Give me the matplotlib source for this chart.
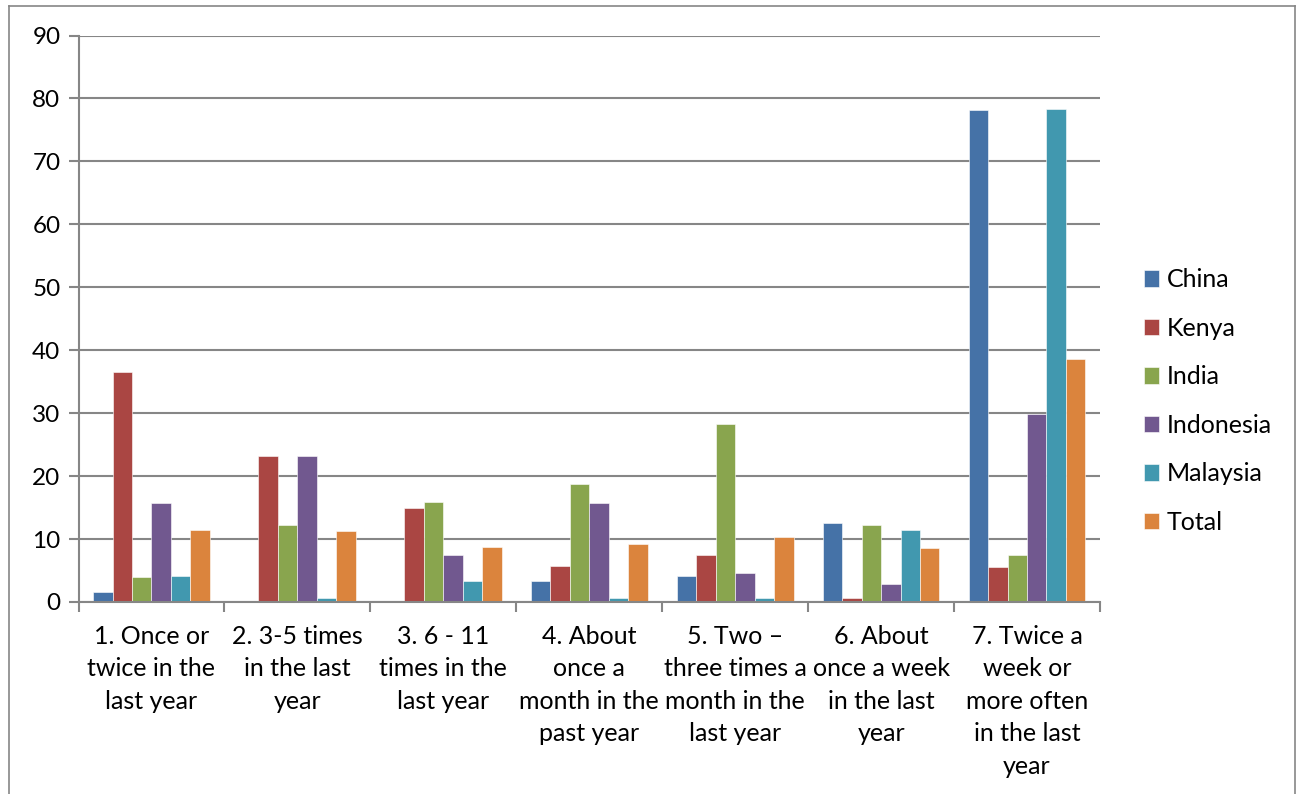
import numpy as np
import matplotlib.pyplot as plt
from matplotlib.lines import Line2D

# data
categories = ['1. Once or\ntwice in the\nlast year',
              '2. 3-5 times\nin the last\nyear',
              '3. 6 - 11\ntimes in the\nlast year',
              '4. About\nonce a\nmonth in the\npast year',
              '5. Two \u2013\nthree times a\nmonth in the\nlast year',
              '6. About\nonce a week\nin the last\nyear',
              '7. Twice a\nweek or\nmore often\nin the last\nyear']
china = [1.6, 0, 0, 3.3, 4.1, 12.5, 78.1]
kenya = [36.5, 23.2, 14.9, 5.7, 7.4, 0.7, 5.6]
india = [4.0, 12.3, 15.9, 18.8, 28.3, 12.3, 7.5]
indonesia = [15.8, 23.2, 7.4, 15.8, 4.6, 2.8, 29.8]
malaysia = [4.2, 0.6, 3.4, 0.6, 0.6, 11.4, 78.3]
total = [11.5, 11.3, 8.7, 9.2, 10.3, 8.5, 38.6]

series = ['China', 'Kenya', 'India', 'Indonesia', 'Malaysia', 'Total']
colors = ['#4572A7', '#AA4643', '#89A54E', '#71588F', '#4198AF', '#DB843D']
values = [china, kenya, india, indonesia, malaysia, total]

plt.rcParams['font.family'] = ['Lato', 'DejaVu Sans']

W, H = 1301, 794
fig = plt.figure(figsize=(W/100, H/100), dpi=100)
fig.patch.set_facecolor('white')

# outer chart border
bc = '#868686'
fig.add_artist(Line2D([9/W, 9/W], [0, 1-6/H], color=bc, lw=1.2))
fig.add_artist(Line2D([9/W, 1295/W], [1-6/H, 1-6/H], color=bc, lw=1.2))
fig.add_artist(Line2D([1295/W, 1295/W], [0, 1-6/H], color=bc, lw=1.2))

left, right, top, bottom = 78.5, 1100, 35.5, 602
ax = fig.add_axes([left/W, 1-bottom/H, (right-left)/W, (bottom-top)/H])

x = np.arange(len(categories))
bw = 0.8/len(series)
for i, (name, vals, c) in enumerate(zip(series, values, colors)):
    ax.bar(x - 0.4 + bw*(i+0.5), vals, bw, color=c, label=name,
           edgecolor='white', linewidth=0.4)

ax.set_xlim(-0.5, len(categories)-0.5)
ax.set_ylim(0, 90)
ax.set_yticks(range(0, 91, 10))
ax.yaxis.grid(True, color='#868686', lw=1.5)
ax.set_axisbelow(True)
for s in ['top', 'right']:
    ax.spines[s].set_visible(False)
for s in ['left', 'bottom']:
    ax.spines[s].set_color('#868686')
    ax.spines[s].set_linewidth(1.5)

ax.set_xticks(x)
ax.set_xticklabels(categories, fontsize=18, linespacing=1.5, va='top')
ax.tick_params(axis='x', length=0, pad=16.5)
ax.set_xticks(np.arange(-0.5, len(categories)), minor=True)
ax.tick_params(axis='x', which='minor', length=7, color='#868686', width=1.5)
ax.tick_params(axis='y', labelsize=17.5, length=7, color='#868686', width=1.5, pad=6)

fig.legend(loc='center left', bbox_to_anchor=(1121/W, 1-401/H), frameon=False,
           fontsize=18, handlelength=0.62, handleheight=0.62, handletextpad=0.3,
           labelspacing=1.02)

fig.savefig('out.png', dpi=100)
